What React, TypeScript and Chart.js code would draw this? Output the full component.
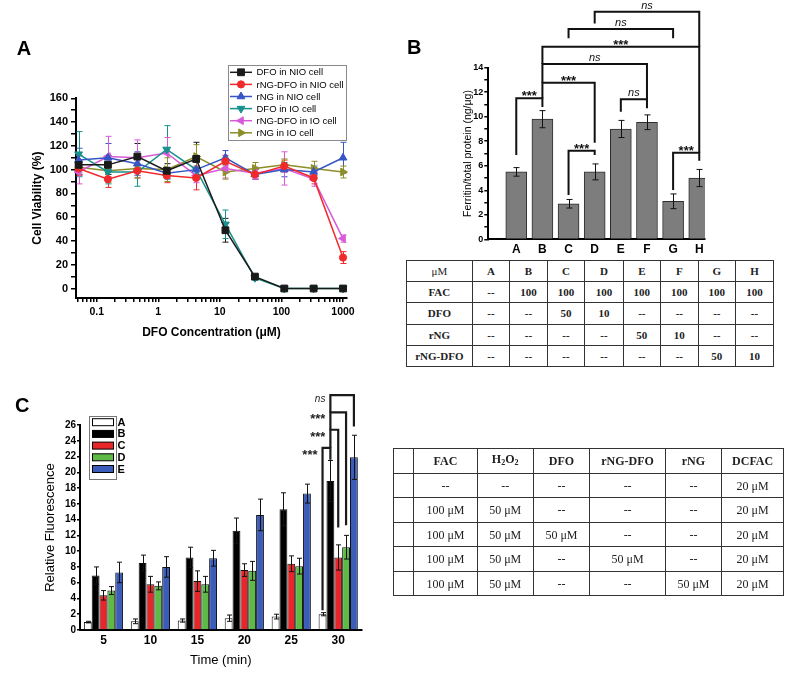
import React, { useEffect, useRef } from 'react';
import { Chart, registerables } from 'chart.js';

Chart.register(...registerables);
Chart.defaults.font.family = "'Liberation Sans', Arial, sans-serif";
Chart.defaults.color = '#000';

// ---------------- Panel A data ----------------
const concentrations = [0.0508, 0.152, 0.457, 1.37, 4.12, 12.3, 37.0, 111, 333, 1000];
const seriesANames = ['DFO in NIO cell', 'rNG-DFO in NIO cell', 'rNG in NIO cell', 'DFO in IO cell', 'rNG-DFO in IO cell', 'rNG in IO cell'];
const dfoNIO = [104, 104, 111, 99, 109, 49, 10, 0, 0, 0];
const rngDfoNIO = [101, 92, 99, 95, 93, 107, 96, 103, 93, 26];
const rngNIO = [108, 110, 105, 97, 100, 110, 96, 100, 98, 110];
const dfoIO = [113, 98, 98, 117, 100, 54, 9, 0, 0, 0];
const rngDfoIO = [98, 111, 110, 114, 95, 101, 97, 101, 92, 42];
const rngIO = [102, 99, 101, 100, 111, 98, 101, 104, 101, 98];
const dfoNIOErr = [8, 8, 11, 6, 14, 10, 2, 0.5, 0.5, 0.5];
const rngDfoNIOErr = [6, 7, 6, 6, 10, 5, 4, 5, 5, 5];
const rngNIOErr = [10, 12, 10, 5, 6, 6, 4, 6, 5, 13];
const dfoIOErr = [19, 10, 12, 20, 8, 12, 2, 0.5, 0.5, 0.5];
const rngDfoIOErr = [10, 17, 15, 13, 6, 8, 5, 14, 6, 3];
const rngIOErr = [6, 10, 8, 10, 10, 6, 5, 5, 6, 5];
const xTickLabelsA = [0.1, 1, 10, 100, 1000];
const yTicksA = [0, 20, 40, 60, 80, 100, 120, 140, 160];

// ---------------- Panel B data ----------------
const categoriesB = ['A', 'B', 'C', 'D', 'E', 'F', 'G', 'H'];
const ferritinB = [5.5, 9.8, 2.9, 5.5, 9.0, 9.55, 3.1, 5.0];
const ferritinErrB = [0.35, 0.7, 0.35, 0.65, 0.7, 0.6, 0.6, 0.7];
const yTicksB = [0, 2, 4, 6, 8, 10, 12, 14];
// significance brackets: a/b = bar index, y = bracket height, ya/yb = leg ends (data units)
const bracketsB = [
  { a: 0, b: 1, y: 11.5, ya: 6.88, yb: 10.8, label: '***' },
  { a: 2, b: 3, y: 7.23, ya: 3.61, yb: 6.88, label: '***' },
  { a: 4, b: 5, y: 11.42, ya: 10.41, yb: 10.69, label: 'ns' },
  { a: 6, b: 7, y: 7.06, ya: 4.02, yb: 6.41, label: '***' },
  { a: 1, b: 3, y: 12.77, ya: 11.5, yb: 7.88, label: '***' },
  { a: 1, b: 5, y: 14.3, ya: 12.77, yb: 11.42, label: 'ns' },
  { a: 1, b: 7, y: 15.71, ya: 14.3, yb: 7.06, label: '***' },
  { a: 2, b: 6, y: 17.15, ya: 16.4, yb: 16.4, label: 'ns' },
  { a: 3, b: 7, y: 18.57, ya: 17.6, yb: 15.71, label: 'ns' },
];
const tableBHeader = ['\u03bcM', 'A', 'B', 'C', 'D', 'E', 'F', 'G', 'H'];
const tableBRows = [
  ['FAC', '--', '100', '100', '100', '100', '100', '100', '100'],
  ['DFO', '--', '--', '50', '10', '--', '--', '--', '--'],
  ['rNG', '--', '--', '--', '--', '50', '10', '--', '--'],
  ['rNG-DFO', '--', '--', '--', '--', '--', '--', '50', '10'],
];

// ---------------- Panel C data ----------------
const timesC = ['5', '10', '15', '20', '25', '30'];
const groupsC = ['A', 'B', 'C', 'D', 'E'];
const fluoA = [1.0, 1.1, 1.2, 1.5, 1.7, 2.0];
const fluoB = [6.9, 8.5, 9.2, 12.6, 15.3, 18.9];
const fluoC = [4.4, 5.8, 6.2, 7.6, 8.4, 9.2];
const fluoD = [5.0, 5.6, 5.8, 7.5, 8.1, 10.5];
const fluoE = [7.3, 8.0, 9.1, 14.6, 17.3, 21.9];
const fluoAErr = [0.1, 0.3, 0.2, 0.4, 0.3, 0.2];
const fluoBErr = [1.1, 1.0, 1.3, 1.6, 2.1, 2.6];
const fluoCErr = [0.6, 1.0, 1.3, 0.8, 1.0, 1.6];
const fluoDErr = [0.5, 0.5, 1.0, 1.2, 1.0, 1.5];
const fluoEErr = [1.3, 1.3, 1.0, 2.0, 1.2, 2.8];
const yTicksC = [0, 2, 4, 6, 8, 10, 12, 14, 16, 18, 20, 22, 24, 26];
// brackets at the 30-min group: a/b = dataset index
const bracketsC = [
  { a: 1, b: 4, y: 29.8, ya: 27.6, yb: 25.8, label: 'ns' },
  { a: 1, b: 3, y: 27.6, ya: 25.4, yb: 13.3, label: '***' },
  { a: 1, b: 2, y: 25.4, ya: 23.1, yb: 13.0, label: '***' },
  { a: 0, b: 1, y: 23.1, ya: 2.5, yb: 21.6, label: '***' },
];
const tableCHeader = ['', 'FAC', 'H2O2', 'DFO', 'rNG-DFO', 'rNG', 'DCFAC'];
const tableCRows = [
  ['', '--', '--', '--', '--', '--', '20 \u03bcM'],
  ['', '100 \u03bcM', '50 \u03bcM', '--', '--', '--', '20 \u03bcM'],
  ['', '100 \u03bcM', '50 \u03bcM', '50 \u03bcM', '--', '--', '20 \u03bcM'],
  ['', '100 \u03bcM', '50 \u03bcM', '--', '50 \u03bcM', '--', '20 \u03bcM'],
  ['', '100 \u03bcM', '50 \u03bcM', '--', '--', '50 \u03bcM', '20 \u03bcM'],
];

// ---------------- styles ----------------
const colorsA = ['#1a1a1a', '#f02a2a', '#3556c4', '#18918c', '#d95ad8', '#8c8e2a'];
const stylesA = ['rect', 'circle', 'triangle', 'triangle', 'triangle', 'triangle'];
const rotationsA = [0, 0, 0, 180, -90, 90];
const radiiA = [4.8, 3.6, 4.5, 4.5, 4.5, 4.5];
const colorsC = ['#ffffff', '#000000', '#e8262a', '#5dba47', '#3b5cb8'];
const SANS = "'Liberation Sans', Arial, sans-serif";
const SERIF = "'Liberation Serif', 'Times New Roman', serif";

function drawMarker(ctx: any, style: string, rotation: number, x: number, y: number, r: number, color: string) {
  ctx.save();
  ctx.fillStyle = color;
  ctx.strokeStyle = color;
  ctx.lineWidth = 1;
  ctx.beginPath();
  if (style === 'circle') {
    ctx.arc(x, y, r, 0, Math.PI * 2);
  } else if (style === 'rect') {
    const s = r * Math.SQRT1_2;
    ctx.rect(x - s, y - s, 2 * s, 2 * s);
  } else {
    let rad = (rotation * Math.PI) / 180;
    ctx.moveTo(x + Math.sin(rad) * r, y - Math.cos(rad) * r);
    rad += (2 * Math.PI) / 3;
    ctx.lineTo(x + Math.sin(rad) * r, y - Math.cos(rad) * r);
    rad += (2 * Math.PI) / 3;
    ctx.lineTo(x + Math.sin(rad) * r, y - Math.cos(rad) * r);
    ctx.closePath();
  }
  ctx.fill();
  ctx.stroke();
  ctx.restore();
}

function errorBars(id: string, phase: 'before' | 'after', fixedColor: string | null, cap: number) {
  const draw = (chart: any) => {
    const ctx = chart.ctx;
    chart.data.datasets.forEach((ds: any, di: number) => {
      if (!ds.errs) return;
      const meta = chart.getDatasetMeta(di);
      const ys = chart.scales[meta.yAxisID];
      ctx.save();
      ctx.strokeStyle = fixedColor || ds.borderColor;
      ctx.lineWidth = 1;
      meta.data.forEach((el: any, i: number) => {
        const raw = ds.data[i];
        const v = typeof raw === 'number' ? raw : raw.y;
        const e = ds.errs[i];
        const x = Math.round(el.x) + 0.5;
        const yt = ys.getPixelForValue(v + e);
        const yb = ys.getPixelForValue(v - e);
        ctx.beginPath();
        ctx.moveTo(x, yt);
        ctx.lineTo(x, yb);
        ctx.moveTo(x - cap, yt);
        ctx.lineTo(x + cap, yt);
        ctx.moveTo(x - cap, yb);
        ctx.lineTo(x + cap, yb);
        ctx.stroke();
      });
      ctx.restore();
    });
  };
  return phase === 'before' ? { id, beforeDatasetsDraw: draw } : { id, afterDatasetsDraw: draw };
}

function panelLetter(letter: string, x: number, y: number) {
  return {
    id: 'letter' + letter,
    afterDraw(chart: any) {
      const ctx = chart.ctx;
      ctx.save();
      ctx.font = `bold 20px ${SANS}`;
      ctx.fillStyle = '#000';
      ctx.textBaseline = 'alphabetic';
      ctx.textAlign = 'left';
      ctx.fillText(letter, x, y);
      ctx.restore();
    },
  };
}

const legendAPlugin = {
  id: 'legendA',
  afterDraw(chart: any) {
    const ctx = chart.ctx;
    const bx = 228, by = 25, bw = 118, bh = 75;
    ctx.save();
    ctx.strokeStyle = '#8a8a8a';
    ctx.lineWidth = 1;
    ctx.strokeRect(bx + 0.5, by + 0.5, bw, bh);
    chart.data.datasets.forEach((ds: any, k: number) => {
      const cy = by + 7.3 + k * 12.1;
      ctx.strokeStyle = ds.borderColor;
      ctx.lineWidth = 1.5;
      ctx.beginPath();
      ctx.moveTo(bx + 2, cy);
      ctx.lineTo(bx + 24, cy);
      ctx.stroke();
      drawMarker(ctx, ds.pointStyle, ds.pointRotation, bx + 13, cy, ds.pointRadius, ds.borderColor);
      ctx.fillStyle = '#000';
      ctx.font = `9.5px ${SANS}`;
      ctx.textBaseline = 'middle';
      ctx.textAlign = 'left';
      ctx.fillText(ds.label, bx + 28.5, cy + 0.5);
    });
    ctx.restore();
  },
};

const axisCommon = {
  border: { display: true, color: '#000', width: 2 },
  grid: { display: true, drawOnChartArea: false, drawTicks: true, color: '#000', tickColor: '#000', lineWidth: 1.5 },
};

function configA(): any {
  const series = [dfoNIO, rngDfoNIO, rngNIO, dfoIO, rngDfoIO, rngIO];
  const errs = [dfoNIOErr, rngDfoNIOErr, rngNIOErr, dfoIOErr, rngDfoIOErr, rngIOErr];
  return {
    type: 'line',
    data: {
      datasets: series.map((s, k) => ({
        label: seriesANames[k],
        data: concentrations.map((x, i) => ({ x, y: s[i] })),
        borderColor: colorsA[k],
        backgroundColor: colorsA[k],
        borderWidth: 1.5,
        pointStyle: stylesA[k],
        pointRotation: rotationsA[k],
        pointRadius: radiiA[k],
        pointBorderWidth: 1,
        tension: 0,
        clip: false,
        errs: errs[k],
      })),
    },
    options: {
      responsive: false,
      animation: false,
      devicePixelRatio: 1,
      layout: { padding: { left: 0, top: 58.3, right: 53, bottom: 0 } },
      plugins: { legend: { display: false }, tooltip: { enabled: false } },
      scales: {
        x: {
          type: 'logarithmic',
          min: 0.0461,
          max: 1160,
          ...axisCommon,
          grid: { ...axisCommon.grid, tickLength: 4 },
          afterBuildTicks: (s: any) => {
            const ticks: any[] = [];
            for (let p = -2; p <= 3; p++) {
              for (let m = 1; m <= 9; m++) {
                const v = m * Math.pow(10, p);
                if (v >= 0.0499 && v <= 1000.01) ticks.push({ value: v });
              }
            }
            s.ticks = ticks;
          },
          ticks: {
            autoSkip: false,
            maxRotation: 0,
            padding: 4,
            font: { size: 10.5, weight: 'bold' },
            callback: (v: number) => {
              const hit = xTickLabelsA.find((t) => Math.abs(t - v) / t < 1e-6);
              return hit !== undefined ? String(hit) : '';
            },
          },
          title: { display: true, text: 'DFO Concentration (\u03bcM)', font: { size: 12, weight: 'bold' }, padding: { top: 0, bottom: 9.8 } },
          afterFit: (s: any) => { s.height = 52; },
        },
        y: {
          type: 'linear',
          min: -8,
          max: 160,
          ...axisCommon,
          grid: { ...axisCommon.grid, tickLength: 5 },
          afterBuildTicks: (s: any) => {
            const ticks: any[] = [];
            for (let v = 0; v <= 160; v += 10) ticks.push({ value: v });
            s.ticks = ticks;
          },
          ticks: {
            autoSkip: false,
            padding: 3,
            font: { size: 11, weight: 'bold' },
            callback: (v: number) => (yTicksA.includes(v) ? String(v) : ''),
          },
          title: { display: true, text: 'Cell Viability (%)', font: { size: 12, weight: 'bold' }, padding: { top: 30.8, bottom: 0 } },
          afterFit: (s: any) => { s.width = 76; },
        },
      },
    },
    plugins: [errorBars('errA', 'before', null, 3), legendAPlugin, panelLetter('A', 16.7, 15)],
  };
}

const bracketsBPlugin = {
  id: 'bracketsB',
  afterDraw(chart: any) {
    const xs = chart.scales.x, ys = chart.scales.y, ctx = chart.ctx;
    ctx.save();
    ctx.strokeStyle = '#111';
    ctx.lineWidth = 2;
    ctx.lineJoin = 'miter';
    bracketsB.forEach((b) => {
      const xa = xs.getPixelForValue(b.a), xb = xs.getPixelForValue(b.b);
      const y = ys.getPixelForValue(b.y);
      ctx.beginPath();
      ctx.moveTo(xa, ys.getPixelForValue(b.ya));
      ctx.lineTo(xa, y);
      ctx.lineTo(xb, y);
      ctx.lineTo(xb, ys.getPixelForValue(b.yb));
      ctx.stroke();
      ctx.fillStyle = '#111';
      ctx.textAlign = 'center';
      ctx.textBaseline = 'alphabetic';
      if (b.label === 'ns') {
        ctx.font = `italic 11px ${SANS}`;
        ctx.fillText('ns', (xa + xb) / 2, y - 3);
      } else {
        ctx.font = `bold 13px ${SANS}`;
        ctx.fillText('***', (xa + xb) / 2, y + 2);
      }
    });
    ctx.restore();
  },
};

function configB(): any {
  return {
    type: 'bar',
    data: {
      datasets: [
        {
          data: ferritinB.map((v, i) => ({ x: i, y: v })),
          backgroundColor: '#7d7d7d',
          borderColor: '#2e2e2e',
          borderWidth: 1,
          barThickness: 21,
          errs: ferritinErrB,
        },
      ],
    },
    options: {
      responsive: false,
      animation: false,
      devicePixelRatio: 1,
      layout: { padding: { left: 0, top: 67.7, right: 35, bottom: 0 } },
      plugins: { legend: { display: false }, tooltip: { enabled: false } },
      scales: {
        x: {
          type: 'linear',
          min: -1.07,
          max: 7.22,
          offset: false,
          ...axisCommon,
          grid: { ...axisCommon.grid, drawTicks: false, offset: false },
          afterBuildTicks: (s: any) => { s.ticks = categoriesB.map((_, i) => ({ value: i })); },
          ticks: {
            autoSkip: false,
            maxRotation: 0,
            padding: 3,
            font: { size: 12, weight: 'bold' },
            callback: (v: number) => categoriesB[Math.round(v)] ?? '',
          },
          afterFit: (s: any) => { s.height = 18.7; },
        },
        y: {
          type: 'linear',
          min: 0,
          max: 14,
          ...axisCommon,
          grid: { ...axisCommon.grid, tickLength: 4 },
          afterBuildTicks: (s: any) => {
            const ticks: any[] = [];
            for (let v = 0; v <= 14; v += 1) ticks.push({ value: v });
            s.ticks = ticks;
          },
          ticks: {
            autoSkip: false,
            padding: 1,
            font: { size: 9, weight: 'bold' },
            callback: (v: number) => (yTicksB.includes(v) ? String(v) : ''),
          },
          title: { display: true, text: 'Ferritin/total protein (ng/\u03bcg)', font: { size: 10.5 }, padding: { top: 62, bottom: 0 } },
          afterFit: (s: any) => { s.width = 88.3; },
        },
      },
    },
    plugins: [errorBars('errB', 'after', '#111', 3), bracketsBPlugin, panelLetter('B', 7, 54)],
  };
}

const legendCPlugin = {
  id: 'legendC',
  afterDraw(chart: any) {
    const ctx = chart.ctx;
    ctx.save();
    ctx.strokeStyle = '#777';
    ctx.lineWidth = 1;
    ctx.strokeRect(89.5, 36.5, 27, 63);
    chart.data.datasets.forEach((ds: any, k: number) => {
      const cy = 42.2 + k * 11.7;
      ctx.fillStyle = ds.backgroundColor;
      ctx.fillRect(92, cy - 3.5, 22, 7);
      ctx.strokeStyle = '#000';
      ctx.strokeRect(92.5, cy - 3.5, 21, 7);
      ctx.fillStyle = '#000';
      ctx.font = `bold 11px ${SANS}`;
      ctx.textAlign = 'left';
      ctx.textBaseline = 'middle';
      ctx.fillText(ds.label, 117.5, cy + 0.5);
    });
    ctx.restore();
  },
};

const bracketsCPlugin = {
  id: 'bracketsC',
  afterDraw(chart: any) {
    const ys = chart.scales.y, ctx = chart.ctx;
    const g = timesC.length - 1;
    ctx.save();
    ctx.strokeStyle = '#1a1a1a';
    ctx.lineWidth = 2.2;
    ctx.lineJoin = 'miter';
    bracketsC.forEach((b) => {
      const xa = chart.getDatasetMeta(b.a).data[g].x;
      const xb = chart.getDatasetMeta(b.b).data[g].x;
      const y = ys.getPixelForValue(b.y);
      ctx.beginPath();
      ctx.moveTo(xa, ys.getPixelForValue(b.ya));
      ctx.lineTo(xa, y);
      ctx.lineTo(xb, y);
      ctx.lineTo(xb, ys.getPixelForValue(b.yb));
      ctx.stroke();
      ctx.fillStyle = '#222';
      ctx.textAlign = 'right';
      ctx.textBaseline = 'alphabetic';
      if (b.label === 'ns') {
        ctx.font = `italic 10px ${SANS}`;
        ctx.fillText('ns', xa - 5, y + 6.5);
      } else {
        ctx.font = `bold 13px ${SANS}`;
        ctx.fillText('***', xa - 5, y + 11);
      }
    });
    ctx.restore();
  },
};

function configC(): any {
  const series = [fluoA, fluoB, fluoC, fluoD, fluoE];
  const errs = [fluoAErr, fluoBErr, fluoCErr, fluoDErr, fluoEErr];
  return {
    type: 'bar',
    data: {
      labels: timesC,
      datasets: series.map((s, k) => ({
        label: groupsC[k],
        data: s,
        backgroundColor: colorsC[k],
        borderColor: '#111',
        borderWidth: 1,
        categoryPercentage: 0.835,
        barPercentage: 1.0,
        errs: errs[k],
      })),
    },
    options: {
      responsive: false,
      animation: false,
      devicePixelRatio: 1,
      layout: { padding: { left: 0, top: 45, right: 38.3, bottom: 0 } },
      plugins: { legend: { display: false }, tooltip: { enabled: false } },
      scales: {
        x: {
          type: 'category',
          offset: true,
          ...axisCommon,
          grid: { ...axisCommon.grid, drawTicks: false, offset: true },
          ticks: { autoSkip: false, maxRotation: 0, padding: 3, font: { size: 12, weight: 'bold' } },
          title: { display: true, text: 'Time (min)', font: { size: 13 }, padding: { top: 0, bottom: 6.2 } },
          afterFit: (s: any) => { s.height = 44; },
        },
        y: {
          type: 'linear',
          min: 0,
          max: 26,
          ...axisCommon,
          grid: { ...axisCommon.grid, tickLength: 3 },
          afterBuildTicks: (s: any) => { s.ticks = yTicksC.map((v) => ({ value: v })); },
          ticks: { autoSkip: false, padding: 1, font: { size: 10, weight: 'bold' } },
          title: { display: true, text: 'Relative Fluorescence', font: { size: 13 }, padding: { top: 42.2, bottom: 0 } },
          afterFit: (s: any) => { s.width = 80; },
        },
      },
    },
    plugins: [errorBars('errC', 'after', '#111', 2.5), legendCPlugin, bracketsCPlugin, panelLetter('C', 15, 31.7)],
  };
}

function ChartCanvas({ left, top, width, height, makeConfig }: any) {
  const ref = useRef<HTMLCanvasElement>(null);
  useEffect(() => {
    const chart = new Chart(ref.current as HTMLCanvasElement, makeConfig());
    return () => chart.destroy();
  }, []);
  return (
    <canvas
      ref={ref}
      width={width}
      height={height}
      style={{ position: 'absolute', left, top, width, height, display: 'block' }}
    />
  );
}

const cellBase: any = {
  border: '1.5px solid #333',
  textAlign: 'center',
  verticalAlign: 'middle',
  padding: 0,
  whiteSpace: 'nowrap',
  overflow: 'hidden',
};

function TableB() {
  const widths = [65.7, 37.6, 37.4, 37.6, 38.4, 37.3, 37.7, 37.3, 38];
  const rows = [tableBHeader, ...tableBRows];
  return (
    <table
      style={{
        position: 'absolute', left: 406, top: 260, width: 367, height: 106,
        borderCollapse: 'collapse', tableLayout: 'fixed',
        fontFamily: SERIF, fontSize: 11, fontWeight: 'bold', color: '#222',
      }}
    >
      <colgroup>
        {widths.map((w, i) => <col key={i} style={{ width: w }} />)}
      </colgroup>
      <tbody>
        {rows.map((r, ri) => (
          <tr key={ri} style={{ height: 21.2 }}>
            {r.map((c, ci) => (
              <td key={ci} style={{ ...cellBase, fontWeight: ri === 0 && ci === 0 ? 'normal' : 'bold' }}>{c}</td>
            ))}
          </tr>
        ))}
      </tbody>
    </table>
  );
}

function renderHeaderC(c: string) {
  if (c === 'H2O2') {
    return (
      <span>H<sub style={{ fontSize: 8, verticalAlign: -2 }}>2</sub>O<sub style={{ fontSize: 8, verticalAlign: -2 }}>2</sub></span>
    );
  }
  return c;
}

function TableC() {
  const widths = [20, 63.4, 56, 56.6, 75.7, 56, 62.3];
  const rows = [tableCHeader, ...tableCRows];
  return (
    <table
      style={{
        position: 'absolute', left: 393.3, top: 448.3, width: 390, height: 147,
        borderCollapse: 'collapse', tableLayout: 'fixed',
        fontFamily: SERIF, fontSize: 12, color: '#222',
      }}
    >
      <colgroup>
        {widths.map((w, i) => <col key={i} style={{ width: w }} />)}
      </colgroup>
      <tbody>
        {rows.map((r, ri) => (
          <tr key={ri} style={{ height: 24.5 }}>
            {r.map((c, ci) => (
              <td key={ci} style={{ ...cellBase, fontWeight: ri === 0 ? 'bold' : 'normal', lineHeight: '14px' }}>
                {ri === 0 ? renderHeaderC(c) : c}
              </td>
            ))}
          </tr>
        ))}
      </tbody>
    </table>
  );
}

export default function App() {
  return (
    <div style={{ position: 'absolute', left: 0, top: 0, width: 800, height: 674, background: '#fff', overflow: 'hidden' }}>
      <ChartCanvas left={0} top={40} width={400} height={310} makeConfig={configA} />
      <ChartCanvas left={400} top={0} width={340} height={258} makeConfig={configB} />
      <TableB />
      <ChartCanvas left={0} top={380} width={400} height={294} makeConfig={configC} />
      <TableC />
    </div>
  );
}
